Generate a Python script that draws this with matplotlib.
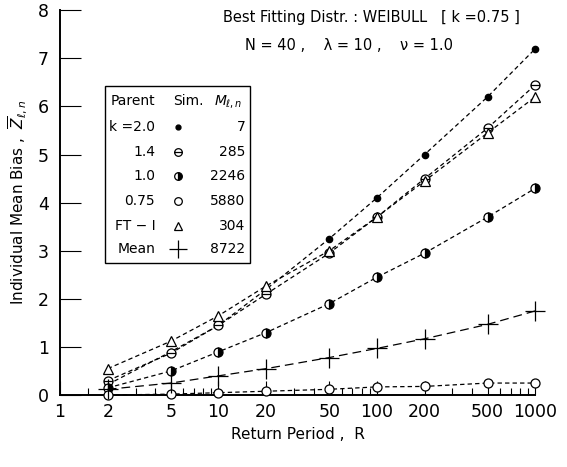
import matplotlib
matplotlib.use("Agg")
import matplotlib.pyplot as plt
from matplotlib.patches import Rectangle
from matplotlib.path import Path
from matplotlib.ticker import FixedLocator, NullFormatter

R = [2, 5, 10, 20, 50, 100, 200, 500, 1000]
k20 = [0.22, 0.9, 1.45, 2.2, 3.25, 4.1, 5.0, 6.2, 7.2]
k14 = [0.3, 0.87, 1.45, 2.1, 2.95, 3.7, 4.5, 5.55, 6.45]
k10 = [0.15, 0.5, 0.9, 1.3, 1.9, 2.45, 2.95, 3.7, 4.3]
k075 = [0.0, 0.02, 0.05, 0.08, 0.12, 0.17, 0.18, 0.25, 0.25]
fti = [0.55, 1.12, 1.65, 2.27, 3.0, 3.7, 4.45, 5.45, 6.2]
mean = [0.12, 0.25, 0.4, 0.55, 0.78, 0.97, 1.17, 1.47, 1.75]

row_names = ["k =2.0", "1.4", "1.0", "0.75", "FT \u2212 I", "Mean"]
sim_counts = ["7", "285", "2246", "5880", "304", "8722"]

major_ticks = [1, 2, 5, 10, 20, 50, 100, 200, 500, 1000]

# circle with a horizontal bar (theta-like symbol)
theta = Path.make_compound_path(Path.unit_circle(),
                                Path([(-1, 0), (1, 0)], [Path.MOVETO, Path.LINETO]))

styles = [
    dict(marker="o", ms=4.5, mfc="black", mec="black"),
    dict(marker=theta, ms=6.5, mfc="white", mec="black", mew=0.9),
    dict(marker="o", ms=6.5, mfc="black", mec="black", fillstyle="right", markerfacecoloralt="white", mew=0.9),
    dict(marker="o", ms=6.5, mfc="white", mec="black", mew=0.9),
    dict(marker="^", ms=6.5, mfc="white", mec="black", mew=0.9),
    dict(marker="+", ms=14, mfc="black", mec="black", mew=0.9),
]
series = [k20, k14, k10, k075, fti, mean]

fig = plt.figure(figsize=(5.67, 4.67), dpi=100)
ax = fig.add_axes([0.106, 0.154, 0.838, 0.824])

for vals, st in zip(series, styles):
    dashes = (7, 4) if st["marker"] == "+" else (3.5, 2.5)
    ax.plot(R, vals, color="black", lw=0.9, dashes=dashes, clip_on=False, zorder=3, **st)

ax.set_xscale("log")
ax.set_xlim(1, 1000)
ax.set_ylim(0, 8)
ax.xaxis.set_major_locator(FixedLocator(major_ticks))
ax.set_xticklabels([str(t) for t in major_ticks])
ax.xaxis.set_minor_locator(FixedLocator([1.5, 3, 4, 6, 7, 8, 9, 30, 40, 60, 70, 80, 90,
                                         300, 400, 600, 700, 800, 900]))
ax.xaxis.set_minor_formatter(NullFormatter())
ax.set_yticks(range(9))
ax.tick_params(axis="x", which="major", direction="in", length=10, width=0.8, labelsize=12.5, pad=6)
ax.tick_params(axis="x", which="minor", direction="in", length=5, width=0.8)
ax.tick_params(axis="y", direction="in", length=15, width=0.8, labelsize=12.5, pad=8)
for s in ["top", "right"]:
    ax.spines[s].set_visible(False)
ax.spines["left"].set_linewidth(1.4)
ax.spines["bottom"].set_linewidth(1.4)

ax.set_xlabel("Return Period ,  R", fontsize=11, labelpad=4)
ax.set_ylabel("Individual Mean Bias ,  $\\overline{Z}_{\\ell,n}$", fontsize=11, labelpad=6)

fig.text(0.655, 0.963, "Best Fitting Distr. : WEIBULL   [ k =0.75 ]", ha="center", va="center", fontsize=10.5)
fig.text(0.615, 0.903, "N = 40 ,    \u03bb = 10 ,    \u03bd = 1.0", ha="center", va="center", fontsize=10.5)

# legend table
def fx(px):
    return (px - 60) / 475.0

def fy(py):
    return (395 - py) / 385.0

ax.add_patch(Rectangle((fx(105), fy(263)), fx(250) - fx(105), fy(86) - fy(263),
                       transform=ax.transAxes, fill=False, lw=1.0, ec="black", clip_on=False))
ax.text(fx(155), fy(101), "Parent", transform=ax.transAxes, ha="right", va="center", fontsize=10)
ax.text(fx(188), fy(101), "Sim.", transform=ax.transAxes, ha="center", va="center", fontsize=10)
ax.text(fx(228), fy(101), "$M_{\\ell,n}$", transform=ax.transAxes, ha="center", va="center", fontsize=10)
row_y = [127, 152, 176, 201, 226, 249]
for name, cnt, st, yy in zip(row_names, sim_counts, styles, row_y):
    ax.text(fx(155), fy(yy), name, transform=ax.transAxes, ha="right", va="center", fontsize=10)
    ax.text(fx(245), fy(yy), cnt, transform=ax.transAxes, ha="right", va="center", fontsize=10)
    st2 = dict(st)
    st2["ms"] = st["ms"] - 1
    ax.plot([fx(178)], [fy(yy)], transform=ax.transAxes, color="black", ls="none",
            clip_on=False, **st2)

fig.savefig("out.png", dpi=100)
